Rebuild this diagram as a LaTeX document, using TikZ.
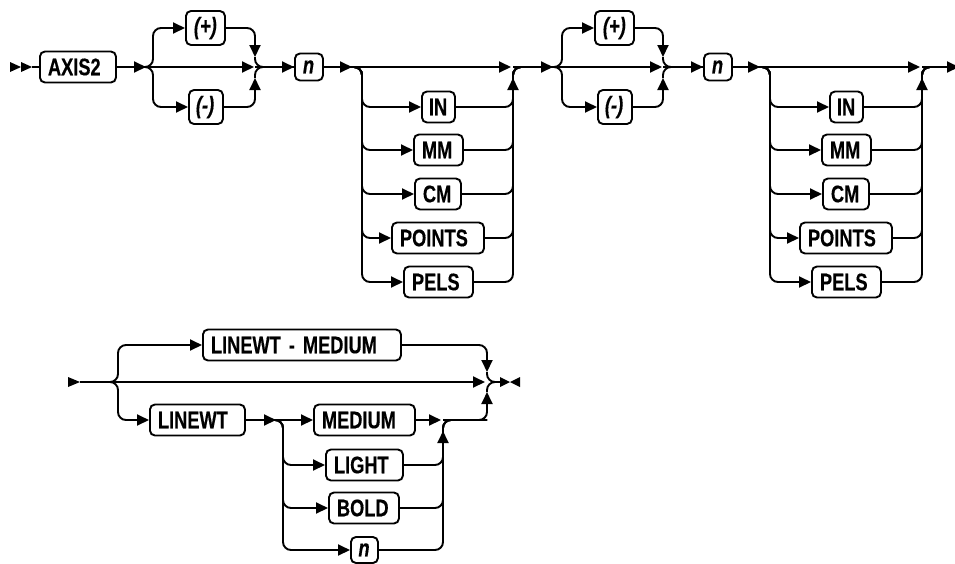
\documentclass[tikz,border=0pt]{standalone}
\usepackage{fontspec}
\setmainfont{Liberation Sans}[FakeStretch=0.76,BoldFeatures={FakeBold=0.4},BoldItalicFeatures={FakeBold=0.4}]
\usetikzlibrary{arrows.meta}
\begin{document}
\begin{tikzpicture}[x=1pt,y=-1pt,line width=1.9pt,
  arr/.style={-{Triangle[length=12pt,width=11pt]}},
  rc/.style={rounded corners=8pt},
  box/.style={draw,rounded corners=5pt,anchor=west,minimum height=31pt,inner xsep=8pt,inner ysep=0pt,align=left,text height=16.5pt,text depth=0pt,font=\fontsize{24}{24}\selectfont\bfseries},
  ibox/.style={box,minimum height=34pt,text height=17.5pt,text depth=5pt,font=\fontsize{24}{24}\selectfont\bfseries\itshape},
  nbox/.style={box,minimum height=27pt,text height=12.5pt,text width=12pt,font=\fontsize{24}{24}\selectfont\bfseries\itshape}]
\useasboundingbox (0,0) rectangle (955,563);

% ---------------- row 1, section 1 ----------------
\fill (10,62) -- (21,67) -- (10,72) -- cycle;
\fill (21,62) -- (32,67) -- (21,72) -- cycle;
\coordinate (s1) at (32,67);
\node[box,text width=60pt] (axis) at (39,67) {AXIS2};
\draw (s1) -- (axis.west);

\coordinate (f1a) at (146,67); \coordinate (f1) at (153,67);
\coordinate (m1a) at (254,67); \coordinate (m1) at (255,67);
\coordinate (m1u) at (255,57); \coordinate (m1d) at (255,78);
\node[ibox,text width=23pt] (p1) at (185,28) {\mbox{(+)}};
\node[ibox,inner xsep=7pt,text width=20pt] (q1) at (188,107) {\mbox{(-)}};
\draw[arr] (axis.east) -- (f1a);
\draw[arr] (f1a) -- (m1a);
\draw[arr,rc] (axis.east) -- (f1) |- (p1.west);
\draw[arr,rc] (axis.east) -- (f1) |- (q1.west);
\draw[arr,rc] (p1.east) -| (m1u);
\draw[arr,rc] (q1.east) -| (m1d);
\node[nbox] (n1) at (294,67) {n};
\draw[rc] (m1u) -- (m1) -- (n1.west);
\draw[rc] (m1d) -- (m1) -- (n1.west);
\draw[arr] (m1) -- (n1.west);

\coordinate (f2a) at (352,67); \coordinate (f2) at (362,67);
\coordinate (m2a) at (511,67); \coordinate (m2) at (513,67);
\coordinate (m2u) at (513,78); \coordinate (m2b) at (513,92);
\coordinate (f3a) at (553,67); \coordinate (f3) at (562,67);
\node[box,inner xsep=7pt,text width=19pt] (in1) at (421,107) {IN};
\node[box,text width=33pt] (mm1) at (413,150) {MM};
\node[box,text width=30pt] (cm1) at (414,194) {CM};
\node[box,text width=76pt] (pt1) at (391,238) {POINTS};
\node[box,text width=53pt] (pe1) at (403,282) {PELS};
\draw[arr] (n1.east) -- (f2a);
\draw[arr] (f2a) -- (m2a);
\foreach \b in {in1,mm1,cm1,pt1,pe1}{
  \draw[arr,rc] (n1.east) -- (f2) |- (\b.west);
  \draw[rc] (\b.east) -| (m2) -- (f3a);
}
\draw[arr] (m2b) -- (m2u);

% ---------------- row 1, section 2 ----------------
\coordinate (m3a) at (662,67); \coordinate (m3) at (663,67);
\coordinate (m3u) at (663,57); \coordinate (m3d) at (663,78);
\draw[arr] (m2) -- (f3a);
\node[ibox,text width=23pt] (p2) at (594,28) {\mbox{(+)}};
\node[ibox,inner xsep=7pt,text width=20pt] (q2) at (597,107) {\mbox{(-)}};
\draw[arr] (f3a) -- (m3a);
\draw[arr,rc] (m2) -- (f3) |- (p2.west);
\draw[arr,rc] (m2) -- (f3) |- (q2.west);
\draw[arr,rc] (p2.east) -| (m3u);
\draw[arr,rc] (q2.east) -| (m3d);
\node[nbox] (n2) at (703,67) {n};
\draw[rc] (m3u) -- (m3) -- (n2.west);
\draw[rc] (m3d) -- (m3) -- (n2.west);
\draw[arr] (m3) -- (n2.west);

\coordinate (f4a) at (760,67); \coordinate (f4) at (770,67);
\coordinate (m4a) at (920,67); \coordinate (m4) at (922,67);
\coordinate (m4u) at (922,78); \coordinate (m4b) at (922,92);
\coordinate (e1) at (959,67);
\node[box,inner xsep=7pt,text width=19pt] (in2) at (829,107) {IN};
\node[box,text width=33pt] (mm2) at (821,150) {MM};
\node[box,text width=30pt] (cm2) at (822,194) {CM};
\node[box,text width=76pt] (pt2) at (799,238) {POINTS};
\node[box,text width=53pt] (pe2) at (811,282) {PELS};
\draw[arr] (n2.east) -- (f4a);
\draw[arr] (f4a) -- (m4a);
\foreach \b in {in2,mm2,cm2,pt2,pe2}{
  \draw[arr,rc] (n2.east) -- (f4) |- (\b.west);
  \draw[rc] (\b.east) -| (m4) -- (e1);
}
\draw[arr] (m4b) -- (m4u);
\draw[arr] (m4) -- (e1);

% ---------------- row 2 ----------------
\fill (68,377) -- (80,382) -- (68,387) -- cycle;
\coordinate (s2) at (80,382); \coordinate (f5) at (118,382);
\coordinate (m5a) at (485,382); \coordinate (m5) at (487,382);
\coordinate (m5u) at (487,372); \coordinate (m5d) at (487,392);
\coordinate (e2) at (500,382);
\node[box,text width=182pt] (lm) at (202,345) {LINEWT - MEDIUM};
\node[box,text width=79pt] (lw) at (149,420) {LINEWT};
\draw[arr] (s2) -- (m5a);
\draw[arr,rc] (s2) -- (f5) |- (lm.west);
\draw[arr,rc] (s2) -- (f5) |- (lw.west);
\draw[arr,rc] (lm.east) -| (m5u);
\draw[rc] (m5u) -- (m5) -- (e2);
\draw[rc] (m5d) -- (m5) -- (e2);
\fill (500,377) -- (510,382) -- (500,387) -- cycle;
\fill (520,377) -- (510,382) -- (520,387) -- cycle;

\coordinate (f6a) at (276,420); \coordinate (f6) at (283,420);
\coordinate (m6a) at (441,420); \coordinate (m6) at (443,420);
\coordinate (m6u) at (443,431); \coordinate (m6b) at (443,445);
\node[box,text width=85pt] (me) at (313,420) {MEDIUM};
\node[box,text width=61pt] (li) at (325,465) {LIGHT};
\node[box,text width=54pt] (bo) at (328,508) {BOLD};
\node[nbox,inner xsep=7.5pt,text width=12pt,minimum height=26pt] (n3) at (350,550) {n};
\draw[arr] (lw.east) -- (f6a);
\draw[arr] (f6a) -- (me.west);
\draw[arr] (me.east) -- (m6a);
\foreach \b in {li,bo,n3}{
  \draw[arr,rc] (lw.east) -- (f6) |- (\b.west);
  \draw[rc] (\b.east) -| (m6) -- (m5d |- m6);
}
\draw[arr] (m6b) -- (m6u);
\draw[arr,rc] (m6) -| (m5d);
\end{tikzpicture}
\end{document}
